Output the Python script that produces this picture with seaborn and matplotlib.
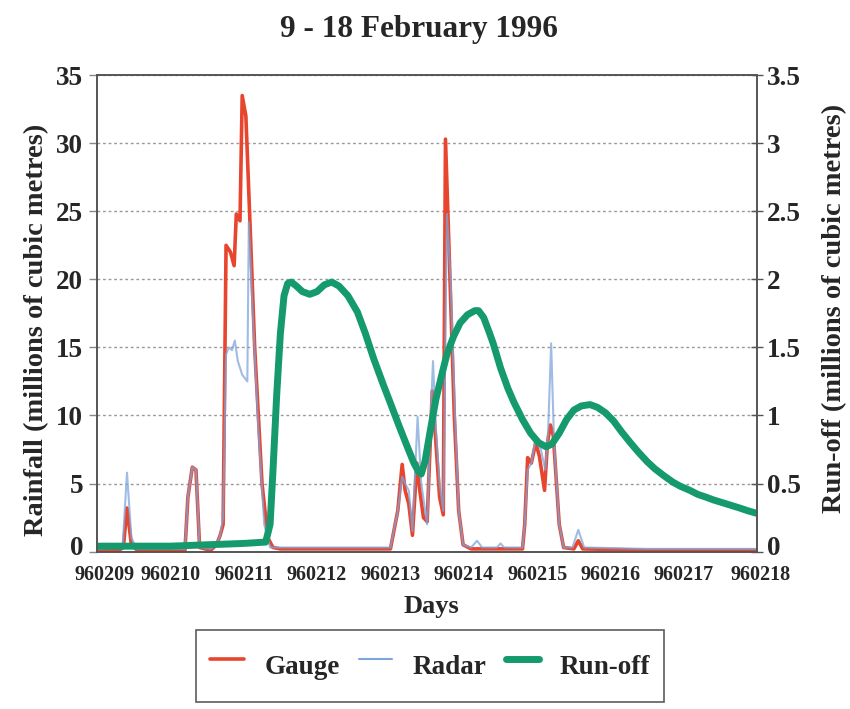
import numpy as np
import pandas as pd
import seaborn as sns
import matplotlib
matplotlib.use("Agg")
import matplotlib.pyplot as plt
import matplotlib.transforms as mtransforms
from matplotlib.lines import Line2D

# ---------------- data ----------------
day_ticks = [9, 10, 11, 12, 13, 14, 15, 16, 17, 18]
day_labels = ["960209", "960210", "960211", "960212", "960213",
              "960214", "960215", "960216", "960217", "960218"]

gauge_t = [9.0, 9.3, 9.36, 9.41, 9.47, 9.55, 10.2, 10.24, 10.3, 10.35, 10.4, 10.55,
           10.63, 10.68, 10.72, 10.76, 10.82, 10.87, 10.9, 10.95, 10.98, 11.03, 11.08,
           11.15, 11.25, 11.33, 11.4, 11.5, 12.5, 13.0, 13.1, 13.16, 13.2, 13.25, 13.3,
           13.36, 13.4, 13.45, 13.5, 13.57, 13.62, 13.67, 13.72, 13.75, 13.8, 13.87,
           13.93, 13.99, 14.1, 14.8, 14.83, 14.87, 14.92, 14.98, 15.03, 15.1, 15.14,
           15.18, 15.22, 15.3, 15.36, 15.5, 15.56, 15.62, 16.5, 18.0]
gauge_v = [0.1, 0.1, 0.3, 3.2, 0.5, 0.1, 0.1, 4.0, 6.2, 6.0, 0.3, 0.1,
           0.5, 1.2, 2.0, 22.5, 22.0, 21.0, 24.8, 24.3, 33.5, 32.0, 25.0,
           15.0, 5.0, 1.0, 0.3, 0.2, 0.2, 0.2, 3.0, 6.4, 4.5, 3.5, 1.2,
           6.5, 4.5, 2.5, 2.2, 11.8, 8.0, 4.0, 2.7, 30.3, 22.0, 10.0,
           3.0, 0.5, 0.2, 0.2, 2.0, 6.9, 6.5, 8.0, 7.0, 4.5, 8.0,
           9.3, 8.5, 2.0, 0.3, 0.2, 0.8, 0.2, 0.1, 0.1]

radar_t = [9.0, 9.35, 9.41, 9.47, 9.55, 10.2, 10.24, 10.3, 10.35, 10.4, 10.55,
           10.63, 10.68, 10.72, 10.76, 10.8, 10.84, 10.88, 10.92, 10.98, 11.05,
           11.07, 11.12, 11.2, 11.28, 11.36, 12.0, 13.0, 13.1, 13.16, 13.2, 13.25,
           13.3, 13.37, 13.42, 13.5, 13.55, 13.58, 13.62, 13.67, 13.72, 13.77,
           13.82, 13.88, 13.93, 13.99, 14.1, 14.18, 14.25, 14.45, 14.5, 14.55,
           14.8, 14.83, 14.87, 14.92, 14.98, 15.05, 15.11, 15.15, 15.19, 15.23,
           15.3, 15.36, 15.48, 15.56, 15.64, 16.5, 18.0]
radar_v = [0.2, 0.3, 5.8, 1.0, 0.2, 0.2, 4.0, 6.2, 6.0, 0.3, 0.2,
           0.5, 1.2, 2.5, 14.5, 15.0, 14.8, 15.5, 14.0, 13.0, 12.5,
           24.2, 18.0, 9.0, 2.0, 0.3, 0.3, 0.3, 3.0, 5.5, 5.0, 4.5,
           1.5, 9.9, 5.0, 2.0, 10.0, 14.0, 9.0, 5.0, 3.0, 24.8,
           20.0, 10.0, 3.0, 0.5, 0.3, 0.8, 0.3, 0.3, 0.6, 0.3,
           0.3, 2.0, 6.0, 6.5, 8.4, 7.5, 6.0, 9.0, 15.3, 8.0,
           2.0, 0.3, 0.3, 1.6, 0.3, 0.2, 0.2]

runoff_t = [9.0, 9.5, 10.0, 10.5, 11.0, 11.3, 11.36, 11.4, 11.45, 11.5, 11.55,
            11.6, 11.65, 11.72, 11.8, 11.9, 12.0, 12.1, 12.2, 12.3, 12.42, 12.55,
            12.66, 12.77, 12.9, 13.0, 13.12, 13.23, 13.32, 13.38, 13.42, 13.47,
            13.54, 13.62, 13.7, 13.77, 13.86, 13.95, 14.05, 14.15, 14.2, 14.27,
            14.34, 14.4, 14.5, 14.6, 14.68, 14.8, 14.91, 15.02, 15.12, 15.2, 15.3,
            15.4, 15.5, 15.6, 15.72, 15.82, 15.93, 16.04, 16.15, 16.27, 16.38,
            16.5, 16.6, 16.72, 16.85, 16.95, 17.08, 17.19, 17.3, 17.4, 17.52,
            17.64, 17.76, 17.87, 18.0]
runoff_v = [0.04, 0.04, 0.04, 0.05, 0.06, 0.07, 0.2, 0.6, 1.15, 1.6, 1.88,
            1.97, 1.98, 1.95, 1.91, 1.89, 1.91, 1.96, 1.98, 1.95, 1.88, 1.76,
            1.6, 1.42, 1.23, 1.09, 0.92, 0.77, 0.65, 0.59, 0.57, 0.66,
            0.88, 1.12, 1.3, 1.45, 1.58, 1.68, 1.74, 1.77, 1.77, 1.72,
            1.62, 1.53, 1.35, 1.2, 1.1, 0.97, 0.87, 0.8, 0.77, 0.79, 0.87,
            0.97, 1.04, 1.07, 1.08, 1.06, 1.02, 0.96, 0.88, 0.8, 0.73,
            0.66, 0.61, 0.56, 0.51, 0.48, 0.45, 0.42, 0.4, 0.38, 0.36,
            0.34, 0.32, 0.3, 0.28]

# ---------------- style ----------------
sns.set_theme(style="white")
plt.rcParams["font.family"] = ["Liberation Serif", "DejaVu Serif"]
plt.rcParams["font.weight"] = "bold"

c_gauge = "#e8452e"
c_radar = "#7ea6dc"
c_run = "#149a6c"

fig = plt.figure(figsize=(8.5, 7.09), dpi=100)
ax = fig.add_axes([0.114, 0.222, 0.777, 0.672])

gauge_df = pd.DataFrame({"day": gauge_t, "value": gauge_v})
radar_df = pd.DataFrame({"day": radar_t, "value": radar_v})
run_df = pd.DataFrame({"day": runoff_t, "value": runoff_v})

sns.lineplot(data=gauge_df, x="day", y="value", ax=ax, color=c_gauge, lw=2.6,
             estimator=None, sort=False)
sns.lineplot(data=radar_df, x="day", y="value", ax=ax, color=c_radar, lw=1.5,
             alpha=0.75, estimator=None, sort=False)

ax.set_xlim(9, 18)
ax.set_ylim(0, 35)
ax.set_yticks(range(0, 36, 5))
ax.set_yticklabels([str(v) for v in range(0, 36, 5)], fontsize=19.5, fontweight="bold")
ax.set_xticks(day_ticks)
ax.set_xticklabels(day_labels, fontsize=14.5, fontweight="bold")
ax.tick_params(axis="x", length=0, pad=10)
ax.tick_params(axis="y", length=6, width=1, color="#888888", direction="out", pad=4)
ax.yaxis.grid(True, linestyle=(0, (2, 2)), color="#999999", lw=1)
ax.set_xlabel("")
ax.set_ylabel("")
for sp in ax.spines.values():
    sp.set_color("#555555")
    sp.set_linewidth(1.2)

ax2 = ax.twinx()
sns.lineplot(data=run_df, x="day", y="value", ax=ax2, color=c_run, lw=5,
             estimator=None, sort=False)
ax2.set_ylim(0, 3.5)
r_ticks = [0, 0.5, 1, 1.5, 2, 2.5, 3, 3.5]
ax2.set_yticks(r_ticks)
ax2.set_yticklabels(["0", "0.5", "1", "1.5", "2", "2.5", "3", "3.5"], fontsize=19.5,
                    fontweight="bold")
ax2.tick_params(axis="y", length=8, width=1, color="#555555", direction="inout", pad=3)
ax2.set_ylabel("")
ax2.set_xlabel("")
ax2.set_xlim(9, 18)
for sp in ax2.spines.values():
    sp.set_color("#555555")
    sp.set_linewidth(1.2)

# nudge corner labels so they do not collide
lift = mtransforms.ScaledTranslation(0, 6 / 100, fig.dpi_scale_trans)
ax.get_yticklabels()[0].set_transform(ax.get_yticklabels()[0].get_transform() + lift)
ax2.get_yticklabels()[0].set_transform(ax2.get_yticklabels()[0].get_transform() + lift)
xl = ax.get_xticklabels()
xl[0].set_transform(xl[0].get_transform() +
                    mtransforms.ScaledTranslation(8 / 100, 0, fig.dpi_scale_trans))
xl[-1].set_transform(xl[-1].get_transform() +
                     mtransforms.ScaledTranslation(3 / 100, 0, fig.dpi_scale_trans))

fig.text(0.493, 0.958, "9 - 18 February 1996", ha="center", va="center",
         fontsize=22.5, fontweight="bold")
fig.text(0.043, 0.535, "Rainfall (millions of cubic metres)", rotation=90,
         ha="center", va="center", fontsize=20.5, fontweight="bold")
fig.text(0.982, 0.565, "Run-off (millions of cubic metres)", rotation=90,
         ha="center", va="center", fontsize=20.5, fontweight="bold")
fig.text(0.508, 0.145, "Days", ha="center", va="center", fontsize=19,
         fontweight="bold")

handles = [Line2D([], [], color=c_gauge, lw=2.6),
           Line2D([], [], color=c_radar, lw=1.5),
           Line2D([], [], color=c_run, lw=5)]
leg = fig.legend(handles, ["Gauge", "Radar", "Run-off"], loc="center",
                 bbox_to_anchor=(0.506, 0.061), ncol=3, frameon=True,
                 fancybox=False, edgecolor="#333333", handlelength=1.25,
                 handleheight=2.2, borderpad=0.5, columnspacing=0.7,
                 handletextpad=0.75, prop={"size": 19.5, "weight": "bold"})
leg.get_frame().set_linewidth(1.2)

fig.savefig("out.png", dpi=100)
